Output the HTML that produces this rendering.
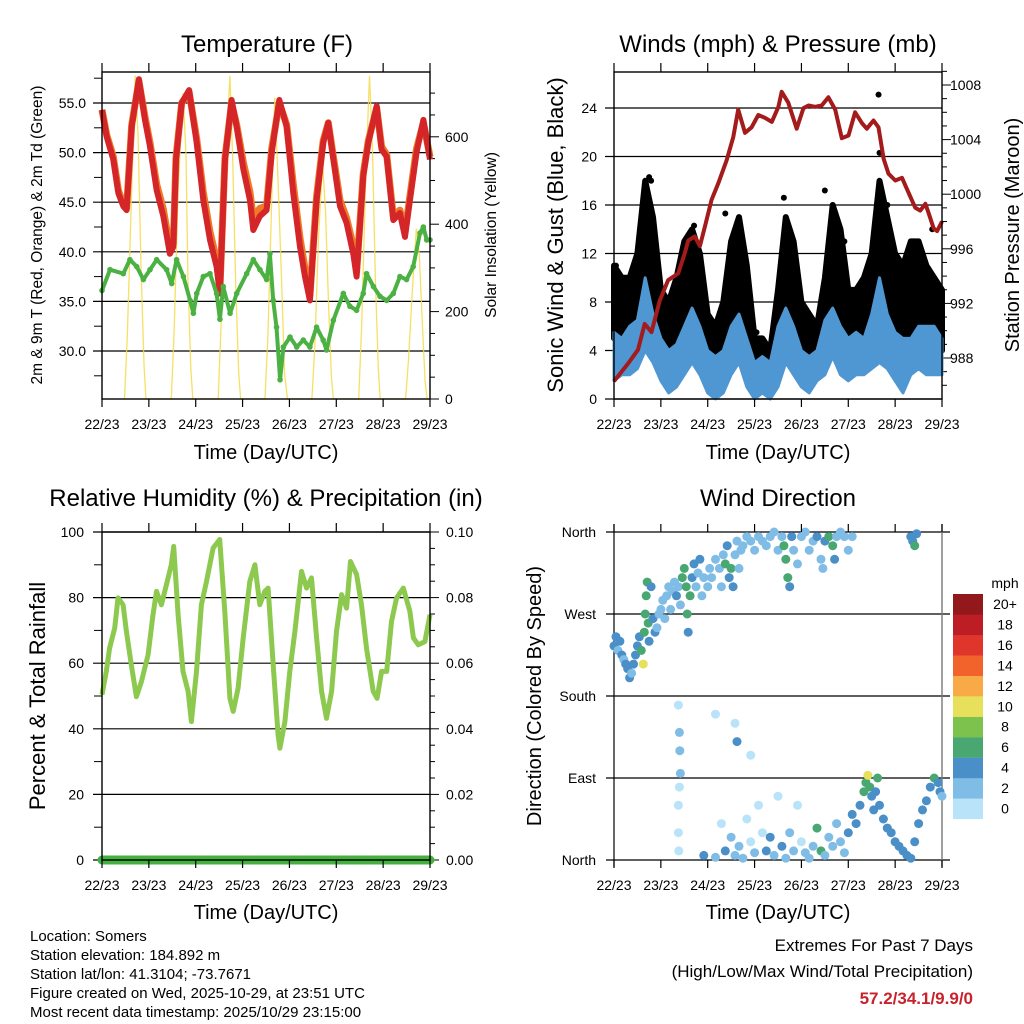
<!DOCTYPE html>
<html><head><meta charset="utf-8"><style>
html,body{margin:0;padding:0;background:#fff;}
svg{display:block;font-family:"Liberation Sans",sans-serif;}
</style></head><body>
<svg id="c" width="1024" height="1024" viewBox="0 0 1024 1024">
<rect x="0" y="0" width="1024" height="1024" fill="#fff"/>
<g id="g1"></g>
<g id="g2"></g>
<g id="g3"></g>
<g id="g4"></g>
<text x="267" y="52" font-size="24" text-anchor="middle">Temperature (F)</text>
<text x="778" y="52" font-size="24" text-anchor="middle">Winds (mph) &amp; Pressure (mb)</text>
<text x="266" y="506" font-size="24" text-anchor="middle">Relative Humidity (%) &amp; Precipitation (in)</text>
<text x="778" y="506" font-size="24" text-anchor="middle">Wind Direction</text>
<text x="266" y="459" font-size="20" text-anchor="middle">Time (Day/UTC)</text>
<text x="778" y="459" font-size="20" text-anchor="middle">Time (Day/UTC)</text>
<text x="266" y="919" font-size="20" text-anchor="middle">Time (Day/UTC)</text>
<text x="778" y="919" font-size="20" text-anchor="middle">Time (Day/UTC)</text>
<text transform="translate(42,235) rotate(-90)" font-size="15.5" text-anchor="middle">2m &amp; 9m T (Red, Orange) &amp; 2m Td (Green)</text>
<text transform="translate(496,235) rotate(-90)" font-size="15.5" text-anchor="middle">Solar Insolation (Yellow)</text>
<text transform="translate(563,235) rotate(-90)" font-size="22" text-anchor="middle">Sonic Wind &amp; Gust (Blue, Black)</text>
<text transform="translate(1019,235) rotate(-90)" font-size="20" text-anchor="middle">Station Pressure (Maroon)</text>
<text transform="translate(45,696) rotate(-90)" font-size="22" text-anchor="middle">Percent &amp; Total Rainfall</text>
<text transform="translate(541,696) rotate(-90)" font-size="20" text-anchor="middle">Direction (Colored By Speed)</text>
<g font-size="15">
<text x="30" y="941">Location: Somers</text>
<text x="30" y="960">Station elevation: 184.892 m</text>
<text x="30" y="979">Station lat/lon: 41.3104; -73.7671</text>
<text x="30" y="998">Figure created on Wed, 2025-10-29, at 23:51 UTC</text>
<text x="30" y="1017">Most recent data timestamp: 2025/10/29 23:15:00</text>
</g>
<g font-size="17" text-anchor="end">
<text x="973" y="951">Extremes For Past 7 Days</text>
<text x="973" y="977">(High/Low/Max Wind/Total Precipitation)</text>
<text x="973" y="1004" font-weight="bold" fill="#c8232c">57.2/34.1/9.9/0</text>
</g>
</svg>
<script>
// ---- data ----
const dayLabels = ["22/23","23/23","24/23","25/23","26/23","27/23","28/23","29/23"];
const tempHours = [0,2.4,5.8,8.4,10.9,12.6,15.2,18.9,22,24.6,28,31.4,34.8,36.5,37.9,40.8,44.6,48.5,51.9,55.3,58.7,60.4,63,66.4,69,72.4,75.8,77.5,80.9,84.3,86.9,90.8,94.6,98,101.4,104,106.5,109.9,113.3,115.9,118.5,121.9,125.3,128.7,130.4,133.8,136.4,140.7,143.2,145.8,149.2,152.6,155.2,157.7,161.1,164.6,168];
const temp9m = [54.3,51.6,49.3,45.9,44.6,44.2,52.6,57.4,53.3,50.6,46.2,43.6,39.8,40.5,49.3,55,56.3,51,45.2,41.2,38.5,35.8,49.3,55.3,52.6,48.3,45.2,42.2,43.6,44.2,50,55.3,52.6,45.9,40.5,37.5,35.1,45.2,51,53,49.3,44.6,42.9,39.8,37.5,47.6,51,54.7,50.3,49.6,43.2,43.9,41.5,45.2,50,53.3,49.3];
const temp2m = [54.3,51.8,49.6,46.2,44.8,44.4,52.8,57.2,53.6,51.0,46.8,44.3,40.4,40.8,49.5,55,56.1,51.4,46.0,42.0,39.2,36.2,49.5,55.0,52.8,49.0,46.0,43.4,44.4,44.6,50.4,55.0,52.8,46.8,41.4,38.3,35.6,45.6,51.2,53.0,49.6,45.2,43.4,40.6,38.0,47.8,51.2,54.5,50.6,49.8,43.6,44.2,42.0,45.6,50.4,53.0,49.6];
const dewHours = [0,4.1,10.9,14.3,17.8,21.2,24.6,28,33.1,35.7,38.2,41.7,45.1,46.8,48.5,51.9,55.3,58.7,60.4,62.1,65.6,69,74.1,77.5,80.9,84.3,86,87.7,89.4,91.2,92.9,96.3,99.7,103.1,106.5,109.9,113.3,115,118.5,123.6,127,130.4,133.8,135.5,139,142.4,145.8,149.2,152.6,156,159.4,162.9,164.6,166.3,168];
const dewValues = [36.1,38.2,37.8,39.2,38.5,37.2,38.2,39.2,38.2,36.8,39.2,37.5,35.1,33.8,35.8,37.5,37.8,35.8,33.2,36.5,33.8,35.8,37.8,39.2,38.2,37.2,39.8,35.1,32.4,27.1,30.4,31.4,30.4,31.1,30.4,32.4,31.1,30.1,33.1,35.8,34.5,34.1,35.8,37.8,36.5,35.5,35.1,35.8,37.5,37.2,38.5,41.9,42.5,41.2,41.2];
const solarHours = [11.5,13,15,17,18.5,20,21.5,22.5, 35.5,37,39,41.5,43,44,45.5,46.5, 59.5,61,63,65.5,67,68.5,70,71, 83.5,85,87,88.5,90,92,93.5,95, 107.5,109,111,113,114.5,116,117.5,118.5, 131.5,133,135,137,138.5,140,141.5,142.5, 155.5,157,159,161,162.5,164,165.5,166.5];
const solarValues = [0,150,450,740,600,300,80,0, 0,160,480,700,560,280,70,0, 0,170,520,740,540,260,60,0, 0,150,470,690,520,270,60,0, 0,120,380,540,430,220,50,0, 0,170,500,740,580,280,70,0, 0,90,250,390,330,180,40,0];
const presHours = [0,7.2,12.3,15.7,19.2,23.4,27.7,32.9,36.3,38,41.4,44,46.5,50,53.4,57.7,61.1,63.6,67.1,70.5,73.9,77.3,80.8,84.2,85.9,89.3,93.6,97,99.6,103,106.4,109.8,113.3,116.7,120.1,123.5,127,129.5,132.9,135.5,138.1,140.6,144.1,147.5,150.9,154.3,156.9,159.5,161.2,163.7,165.5,168];
const presValues = [986.3,987.6,988.6,990.5,989.9,992.2,993.7,994.2,995.7,996.6,996.9,996.2,997.6,999.6,1000.8,1002.5,1004.2,1006.2,1004.5,1004.9,1005.8,1005.6,1005.3,1006.4,1007.5,1006.7,1004.8,1006.3,1006.5,1006.4,1006.5,1007.1,1006.2,1004.1,1004.3,1006.0,1005.2,1004.8,1005.4,1004.9,1002.6,1001.5,1001.0,1001.2,1000.1,999.0,998.8,999.3,998.6,997.5,997.3,998.0];
const windHours = [0,4,8,12,16,20,24,28,32,36,40,44,48,52,56,60,64,68,72,76,80,84,88,92,96,100,104,108,112,116,120,124,128,132,136,140,144,148,152,156,160,164,168];
const windMax = [5.5,5,6,6.5,10,7,5,4,4.5,6,7.5,6,4,3.5,4,6,7,5,3,3.5,3,6,7.5,6,4,3.5,4,6.5,7.5,6,5,5.5,5,7,10,7,5.5,5,5,6,6,6,5];
const windMin = [1.5,2,2,2.5,4,3,1.5,0.5,1,2,3,2,0.5,0,0.5,2,3,1,0,0.5,0,1,3,2,1,0.5,1.5,2,3.5,2,1.5,2,2,2.5,3,2.5,1.5,0.5,2,2.5,2,2,2];
const gustMax = [11,10,10,12,18,15,9,8,10,13,14,12,7,6,8,13,15,11,5,5,4,9,15,13,8,7,6,10,16,14,9,9,10,12,18,15,12,11,13,13,11,10,9];
const gustMin = [5,4.5,5,6,8,5,3,2.5,3.5,5,6,5,2,1,3,5,6,3,1,1.5,1,2,6,4,2,2,3,4,7,5,3,3,3.5,5,8,6,5,4,5,4,5,4,4];
const gustOutHours = [1,18,19,41,57,73,87,108,118,135.5,136,140,163];
const gustOutValues = [11,18.3,18,14.3,15.3,5.5,16.6,17.2,13,25.1,20.3,16,14];
const rhHours = [0,2.2,3.9,6.5,8.2,10.8,12.5,15,17.6,20.2,23.6,26.1,27.9,30.4,33,35.5,36.7,39,41.5,44.1,45.8,48.4,50.9,53.5,56.9,60.3,62.9,65.5,67.2,69.7,72.3,75.7,78.3,80.8,83.4,85.1,87.7,90.2,91.1,93.7,96.2,98.8,102.2,104.8,107.3,109.9,112.5,115,117.6,120.1,122.7,125.3,127.3,130.4,132.9,135.5,138.9,140.9,143.2,145.8,148.3,150.9,154.3,157.7,159.5,162,165.4,168];
const rhValues = [50.4,57.5,64.6,70.7,79.9,77.8,69.7,59.5,49.8,54.4,62.6,74.8,81.9,77.8,83.9,90,95.6,74.8,57.5,51.4,42.2,57.5,77.8,84.9,95.1,97.7,75.8,49.3,45.3,52.4,67.7,84.9,90,77.8,81.9,82.9,59.5,38.1,34.1,42.2,57.5,69.7,88,82.9,86,67.7,51.4,43.2,51.4,69.7,80.9,76.8,91,87,77.8,64.6,51.4,49.3,57.5,57.5,72.7,79.9,82.9,75.8,67.7,65.6,66.6,74.8];
const precipHours = [0,168];
const precipValues = [0,0];
const dirHours = [0,1,2,3,4,5,6,7,8,9,10,11,12,13,14,15,15.5,16,16.5,17,17.5,18,19,20,21,22,23,24,25,26,27,28,29,30,31,32,33,34,35,36,37,37.5,38,39,40,41,42,43,44,45,46,48,49,50,52,54,55,56,57,58,59,60,61,62,63,64,65,66,68,70,72,74,76,78,80,82,84,86,87,88,89,90,91,92,94,96,98,100,102,104,106,107,108,110,112,113,114,116,118,120,122,
46,52,55,57,60,62,64,66,68,70,72,74,76,78,80,82,84,86,88,90,92,94,96,98,100,102,104,106,108,110,112,114,116,118,120,122,124,126,128,129,130,131,132,133,134,135,136,138,140,142,144,146,148,150,152,154,156,158,160,162,164,166,167,168,
33,33.5,33.7,34,33.5,33,33,33.2,52,62,63,70,152,153,154,155];
const dirDegrees = [235,245,230,240,225,220,215,210,200,205,215,225,235,245,230,215,250,270,290,305,260,240,300,265,250,255,270,275,285,265,290,300,275,295,305,290,300,280,310,320,300,270,250,290,310,325,300,315,330,290,310,300,320,310,330,320,300,335,325,345,310,320,300,335,350,320,340,345,355,350,340,355,350,345,355,360,340,355,345,330,310,300,355,340,325,355,360,340,350,355,330,320,350,355,345,330,355,360,355,340,355,
5,3,40,10,25,5,15,2,45,20,8,60,30,10,25,5,70,15,2,30,10,60,20,8,2,15,35,10,5,25,15,40,20,8,30,50,40,60,75,85,93,80,70,55,75,90,60,45,35,30,20,15,10,5,2,20,40,55,65,80,90,85,75,70,
170,140,120,95,80,60,30,10,160,150,130,115,355,350,345,358];
const dirSpeeds = [4,4,3,4,4,3,4,4,4,3,4,4,4,5,6,10,7,6,7,6,7,4,5,4,4,3,3,2,3,2,2,2,3,2,3,4,2,2,6,6,7,6,4,6,5,4,3,2,4,3,2,2,2,2,3,2,2,2,6,4,5,6,4,3,2,2,2,2,2,2,3,2,2,2,2,3,2,2,6,6,6,4,4,2,2,3,2,2,2,4,2,2,4,6,6,5,2,2,2,2,3,
4,2,1,4,2,3,2,2,1,1,2,1,1,4,4,2,1,4,2,2,2,1,1,2,2,2,6,6,2,2,2,2,2,3,4,4,4,4,6,7,10,7,5,4,5,6,4,4,4,4,4,4,4,4,4,4,4,4,4,5,6,4,4,3,
1,2,2,3,1,1,1,1,1,1,4,1,4,4,6,4];
const speedColors = ["#b9e3f8","#80bde6","#4a8fc7","#49a872","#7cc24c","#e6e05a","#f7aa46","#f2632b","#e0352b","#bd1e25","#92181b"];
const speedLabels = ["0","2","4","6","8","10","12","14","16","18","20+"];

// ---- helpers ----
const NS="http://www.w3.org/2000/svg";
function mk(parent,tag,attrs){const e=document.createElementNS(NS,tag);for(const k in attrs)e.setAttribute(k,attrs[k]);parent.appendChild(e);return e;}
function pts(hs,vs,fx,fy){return hs.map((h,i)=>fx(h).toFixed(1)+","+fy(vs[i]).toFixed(1)).join(" ");}
function band(hs,lo,hi,fx,fy){const a=hs.map((h,i)=>fx(h).toFixed(1)+","+fy(hi[i]).toFixed(1));const b=hs.slice().reverse().map((h,j)=>{const i=hs.length-1-j;return fx(h).toFixed(1)+","+fy(lo[i]).toFixed(1);});return a.concat(b).join(" ");}
function xTicks(g,fx,top,bot){
  dayLabels.forEach((d,i)=>{
    const x=fx(i*24);
    const t1=mk(g,"line",{x1:x,y1:top-9,x2:x,y2:top,stroke:"#000","stroke-width":1.2});
    
    
    const t2=mk(g,"line",{x1:x,y1:bot,x2:x,y2:bot+8,stroke:"#000","stroke-width":1.2});
    
    
    const tx=mk(g,"text",{x:x,y:bot+30,"font-size":14,"text-anchor":"middle"});
    tx.textContent=d;
    
    
  });
}
function frame(g,x0,y0,x1,y1){
  const r=mk(g,"rect",{x:x0,y:y0,width:x1-x0,height:y1-y0,fill:"none",stroke:"#000","stroke-width":1.4});
  
  
}
function hgrid(g,y,x0,x1,label,lx,anchor){
  const l=mk(g,"line",{x1:x0,y1:y,x2:x1,y2:y,stroke:"#000","stroke-width":1.2});
  
  
  if(label!==null){const t=mk(g,"text",{x:lx,y:y+5,"font-size":14,"text-anchor":anchor});t.textContent=label;
  
  }
}
function rtick(g,x,y,len,label,lx){
  const l=mk(g,"line",{x1:x,y1:y,x2:x+len,y2:y,stroke:"#000","stroke-width":1});
  
  
  if(label!==null){const t=mk(g,"text",{x:lx,y:y+5,"font-size":14});t.textContent=label;
  
  }
}

// ---- Panel 1: Temperature ----
(function(){
  const g=document.getElementById('g1');
  const X=t=>102+t/168*328, Y=v=>103+(55-v)*9.92, YS=v=>399-v*0.437;
  [55,50,45,40,35,30].forEach(v=>hgrid(g,Y(v),93,430,v.toFixed(1),86,"end"));
  [57.5,52.5,47.5,42.5,37.5,32.5,27.5].forEach(v=>{const l=mk(g,"line",{x1:94,y1:Y(v),x2:102,y2:Y(v),stroke:"#000"});
    
    });
  for(let s=0;s<=700;s+=50){rtick(g,430,YS(s),s%200===0?9:5,s%200===0?String(s):null,445);}
  const sol=mk(g,"polyline",{points:pts(solarHours,solarValues,X,YS),fill:"none",stroke:"#f5da48","stroke-width":1.3,"stroke-opacity":0.85});
  
  
  const o=mk(g,"polyline",{points:pts(tempHours,temp2m,X,Y),fill:"none",stroke:"#f07a28","stroke-width":7,"stroke-linejoin":"round"});
  
  
  const r=mk(g,"polyline",{points:pts(tempHours,temp9m,X,Y),fill:"none",stroke:"#d42528","stroke-width":6,"stroke-linejoin":"round"});
  
  
  const d=mk(g,"polyline",{points:pts(dewHours,dewValues,X,Y),fill:"none",stroke:"#4bb142","stroke-width":4,"stroke-linejoin":"round"});
  
  
  dewHours.forEach((h,i)=>{const c=mk(g,"circle",{cx:X(h),cy:Y(dewValues[i]),r:2.8,fill:"#4bb142"});
    
    });
  frame(g,102,72,430,399);
  xTicks(g,X,72,399);
})();

// ---- Panel 2: Winds ----
(function(){
  const g=document.getElementById('g2');
  const X=t=>614+t/168*328, Y=v=>399-v*12.125, YP=p=>358-(p-988)*13.65;
  [0,4,8,12,16,20,24].forEach(v=>hgrid(g,Y(v),605,942,String(v),597,"end"));
  for(let p=986;p<=1009;p++){rtick(g,942,YP(p),p%4===0?9:5,p%4===0?String(p):null,950);}
  const gb=mk(g,"polygon",{points:band(windHours,gustMin,gustMax,X,Y),fill:"#000",stroke:"#000","stroke-width":6,"stroke-linejoin":"round"});
  
  
  gustOutHours.forEach((h,i)=>{const c=mk(g,"circle",{cx:X(h),cy:Y(gustOutValues[i]),r:3,fill:"#000"});
    
    });
  const wb=mk(g,"polygon",{points:band(windHours,windMin,windMax,X,Y),fill:"#4f97d2",stroke:"#4f97d2","stroke-width":3,"stroke-linejoin":"round"});
  
  
  const pl=mk(g,"polyline",{points:pts(presHours,presValues,X,YP),fill:"none",stroke:"#a31b1b","stroke-width":4,"stroke-linejoin":"round"});
  
  
  frame(g,614,72,942,399);
  xTicks(g,X,72,399);
})();

// ---- Panel 3: Humidity ----
(function(){
  const g=document.getElementById('g3');
  const X=t=>102+t/168*328, Y=v=>860-v*3.28, YP=v=>860-v*3280;
  [0,20,40,60,80,100].forEach(v=>hgrid(g,Y(v),93,430,String(v),84,"end"));
  [10,30,50,70,90].forEach(v=>{const l=mk(g,"line",{x1:94,y1:Y(v),x2:102,y2:Y(v),stroke:"#000"});
    
    });
  for(let i=0;i<=20;i++){const v=i*0.005;rtick(g,430,YP(v),i%4===0?9:5,i%4===0?v.toFixed(2):null,446);}
  const rl=mk(g,"polyline",{points:pts(rhHours,rhValues,X,Y),fill:"none",stroke:"#8dc94e","stroke-width":5,"stroke-linejoin":"round"});
  
  
  const pr=mk(g,"polyline",{points:pts(precipHours,precipValues,X,YP),fill:"none",stroke:"#45b040","stroke-width":9,"stroke-linecap":"round"});
  
  
  frame(g,102,532,430,860);
  xTicks(g,X,532,860);
})();

// ---- Panel 4: Wind direction ----
(function(){
  const g=document.getElementById('g4');
  const X=t=>614+t/168*328, Y=d=>860-d/360*328;
  const names=["North","East","South","West","North"];
  [0,90,180,270,360].forEach((d,i)=>hgrid(g,Y(d),606,950,names[i],596,"end"));
  const ax=mk(g,"line",{x1:614,y1:524,x2:614,y2:867,stroke:"#000","stroke-width":1.2});
  
  
  const ax2=mk(g,"line",{x1:942,y1:524,x2:942,y2:867,stroke:"#777","stroke-width":1.4});
  
  
  dirHours.forEach((h,i)=>{
    const s=dirSpeeds[i];
    const c=mk(g,"circle",{cx:X(h).toFixed(1),cy:Y(dirDegrees[i]).toFixed(1),r:4.5,fill:speedColors[Math.min(10,Math.floor(s/2))]});
    
    
  });
  dayLabels.forEach((d,i)=>{
    const x=X(i*24);
    const t1=mk(g,"line",{x1:x,y1:524,x2:x,y2:532,stroke:"#000","stroke-width":1.2});
    
    
    const t2=mk(g,"line",{x1:x,y1:860,x2:x,y2:868,stroke:"#000","stroke-width":1.2});
    
    
    const tx=mk(g,"text",{x:x,y:890,"font-size":14,"text-anchor":"middle"});
    tx.textContent=d;
    
    
  });
  const lg=mk(g,"g",{});
  
  
  const mt=mk(lg,"text",{x:1005,y:588,"font-size":14,"text-anchor":"middle"});
  mt.textContent="mph";
  
  
  speedLabels.forEach((lab,k)=>{
    const j=10-k;
    const y=594+j*20.45;
    const b=mk(lg,"rect",{x:953,y:y.toFixed(1),width:30,height:20.6,fill:speedColors[k]});
    
    
    const t=mk(lg,"text",{x:1005,y:(y+15).toFixed(1),"font-size":14,"text-anchor":"middle"});
    t.textContent=lab;
    
    
  });
})();
</script>
</body></html>
